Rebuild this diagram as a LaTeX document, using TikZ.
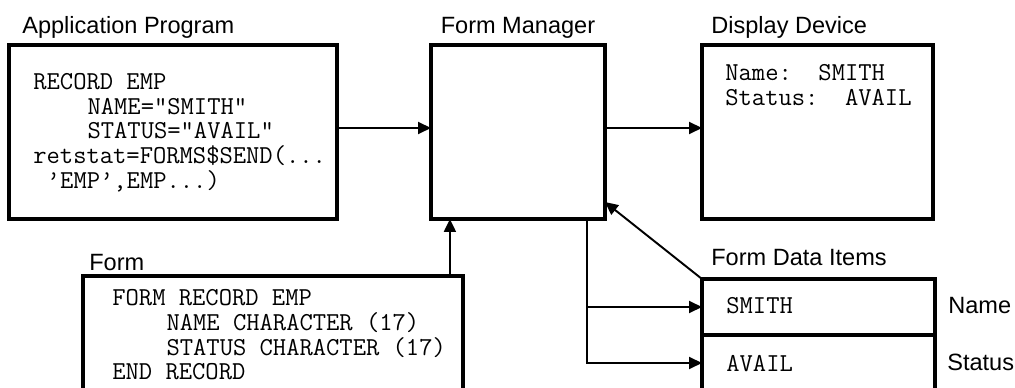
\documentclass[tikz,border=0pt]{standalone}
\usepackage{fontspec}
\setsansfont{Liberation Sans}
\usetikzlibrary{arrows.meta,positioning,calc}

\newcommand{\ind}{\hspace*{2.1em}}
\newcommand{\onech}{\hspace*{0.525em}}
\newcommand{\codefont}{\fontsize{14.7}{14.1}\selectfont\ttfamily\lineskiplimit=-20pt\relax}

\begin{document}
\begin{tikzpicture}[
    x=0.02cm,
    y=-0.02cm,
    box/.style={
        draw,
        rectangle,
        line width=1.8pt,
        inner sep=0pt,
        outer sep=0pt,
        anchor=north west
    },
    title/.style={
        font=\fontsize{13.4}{16}\sffamily,
        inner sep=0pt,
        anchor=base west
    },
    code/.style={
        font=\codefont,
        align=left,
        inner sep=0pt,
        anchor=north west
    },
    line/.style={
        draw,
        line width=1.1pt,
        -{Triangle[length=0.26cm,width=0.24cm]}
    }
]

\clip (0,0) rectangle (1015,387);

% Boxes
\node [box, minimum width=6.56cm, minimum height=3.48cm] (app) at (9,45) {};
\node [box, minimum width=3.48cm, minimum height=3.48cm] (fm) at (431,45) {};
\node [box, minimum width=4.62cm, minimum height=3.48cm] (dd) at (702,45) {};
\node [box, minimum width=7.6cm, minimum height=3cm] (form) at (83,276) {};
\node [box, minimum width=4.66cm, minimum height=1.12cm] (smith) at (702,279) {};
\node [box, minimum width=4.66cm, minimum height=1.12cm] (avail) at (smith.south west) {};

% Titles
\node [title] (apptitle) at (22,33) {Application Program};
\node [title, anchor=base] (fmtitle) at ([yshift=0.24cm]fm.north) {Form Manager};
\node [title] (ddtitle) at (711,33) {Display Device};
\node [title] (formtitle) at (89,270) {Form};
\node [title] (fdititle) at (711,265) {Form Data Items};
\node [title] (namelabel) at (948,313) {Name};
\node [title] (statuslabel) at (947,370) {Status};

% Code
\node [code] (appcode) at (33,73) {RECORD EMP\\
    \ind NAME="SMITH"\\
    \ind STATUS="AVAIL"\\
    retstat=FORMS\$SEND(...\\
    \onech ’EMP’,EMP...)};
\node [code] (ddcode) at (725,64) {Name:\ \ SMITH\\
    Status:\ \ AVAIL};
\node [code] (formcode) at (112,289) {FORM RECORD EMP\\
    \ind NAME CHARACTER (17)\\
    \ind STATUS CHARACTER (17)\\
    END RECORD};
\node [code, anchor=base west] (smithval) at (726,313) {SMITH};
\node [code, anchor=base west] (availval) at (726,371) {AVAIL};

% Edges
\path [line] ([yshift=0.08cm]app.east) -- ([yshift=0.08cm]fm.west);
\path [line] ([yshift=0.08cm]fm.east) -- ([yshift=0.08cm]dd.west);
\path [line] ([xshift=-0.26cm]form.north east) -- ([xshift=-0.26cm]form.north east |- fm.south);
\path [line] (smith.north west) -- ([yshift=0.34cm]fm.south east);
\coordinate (split) at ([xshift=-0.36cm]fm.south east);
\path [line] (split) |- (avail.west);
\path [line] (split |- smith.west) -- (smith.west);

\end{tikzpicture}
\end{document}
